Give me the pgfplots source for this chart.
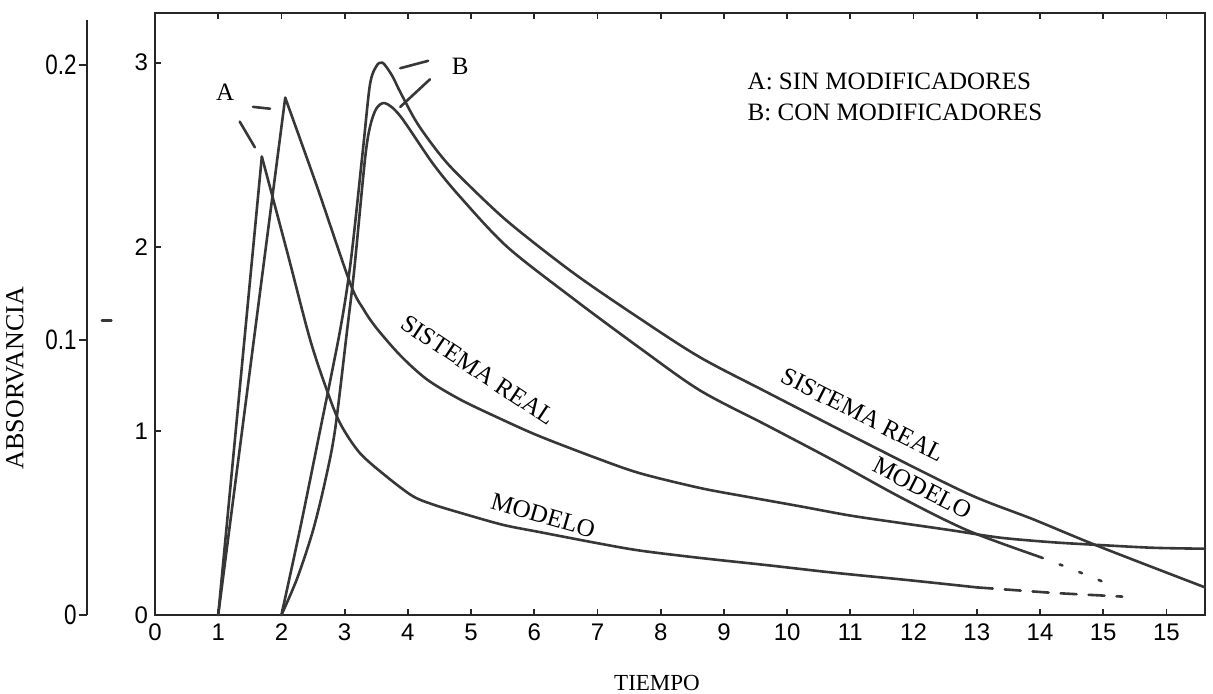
\documentclass[border=0pt]{standalone}
\usepackage{fontspec}
\setmainfont{Liberation Serif}
\newfontfamily\tickfont{Liberation Sans}
\usepackage{pgfplots}
\pgfplotsset{compat=1.18}
\definecolor{curve}{RGB}{55,55,55}
\tikzset{lbl/.style={font=\fontsize{12.5}{15}\selectfont, inner sep=0pt}}
\pgfplotsset{
  crv/.style={curve, line width=1.3pt, line join=round, line cap=round},
}
\begin{document}
\begin{tikzpicture}
\useasboundingbox (0,0) rectangle (606.5pt,347pt);

% second absorbance scale on the far left
\begin{axis}[
    at={(43.5pt,39.5pt)}, anchor=south west,
    scale only axis, width=20pt, height=297.5pt,
    xmin=0, xmax=1, ymin=0, ymax=0.21636,
    axis y line=left, hide x axis,
    axis line style={-, line width=1.4pt, black!85},
    ytick={0,0.1,0.2},
    yticklabels={\scalebox{0.8}[1]{0},\scalebox{0.8}[1]{0.1},\scalebox{0.8}[1]{0.2}},
    tick align=outside, major tick length=4pt,
    tick style={line width=1pt, black!85},
    yticklabel style={font=\tickfont\fontsize{14}{14}\selectfont, inner sep=1pt},
]
\end{axis}

\begin{axis}[
    at={(77.5pt,39.5pt)}, anchor=south west,
    scale only axis, width=525pt, height=301pt,
    xmin=0, xmax=16.61, ymin=0, ymax=3.27,
    xtick={0,1,2,3,4,5,6,7,8,9,10,11,12,13,14,15,16},
    xticklabels={0,1,2,3,4,5,6,7,8,9,10,11,12,13,14,15,15},
    ytick={0,1,2,3}, yticklabels={0,1,2,3},
    xtick pos=both, ytick pos=left,
    tick align=inside, major tick length=3pt,
    tick style={line width=0.9pt, black!85},
    axis line style={line width=1.4pt, black!85},
    ticklabel style={font=\tickfont\fontsize{12}{12}\selectfont},
    xticklabel style={yshift=-1pt},
    clip=false,
]
% A, sistema real
\addplot[crv] coordinates {(1,0) (2.06,2.81)};
\addplot[crv, smooth, tension=0.5] coordinates {
  (2.06,2.81) (2.56,2.33) (3.09,1.80) (3.3,1.66) (3.5,1.56) (3.88,1.41)
  (4.3,1.28) (4.83,1.17) (5.5,1.06) (6.09,0.97) (7.0,0.85) (7.67,0.77)
  (8.62,0.69) (9.4,0.64) (10.21,0.59) (11.0,0.54) (11.79,0.50) (12.6,0.46)
  (13.37,0.42) (14.2,0.395) (14.95,0.38) (15.8,0.365) (16.61,0.36)};
% A, modelo
\addplot[crv] coordinates {(1,0) (1.69,2.49)};
\addplot[crv, smooth, tension=0.5] coordinates {
  (1.69,2.49) (2.1,1.96) (2.45,1.50) (2.72,1.22) (2.93,1.04) (3.24,0.88)
  (3.67,0.75) (4.08,0.645) (4.4,0.60) (4.83,0.555) (5.5,0.49) (6.09,0.45)
  (7.0,0.39) (7.67,0.35) (8.62,0.31) (9.7,0.27) (10.73,0.23) (11.9,0.19)
  (13.0,0.15)};
\addplot[crv, dash pattern=on 8pt off 6pt] coordinates {
  (13.0,0.15) (14.2,0.12) (15.3,0.10)};
% B, sistema real
\addplot[crv, smooth, tension=0.5] coordinates {
  (2,0) (2.29,0.46) (2.61,1.0) (2.93,1.55) (3.1,1.93) (3.29,2.53)
  (3.4,2.88) (3.5,2.98) (3.6,3.0) (3.75,2.93) (3.88,2.84) (4.15,2.67)
  (4.51,2.50) (4.83,2.38) (5.57,2.14) (6.61,1.86) (7.67,1.61) (8.62,1.40)
  (9.68,1.21) (11.27,0.93) (12.85,0.66) (13.89,0.52) (14.95,0.37) (16.61,0.15)};
% B, modelo
\addplot[crv, smooth, tension=0.5] coordinates {
  (2,0) (2.25,0.2) (2.5,0.46) (2.7,0.74) (2.85,1.01) (3.04,1.55)
  (3.15,1.87) (3.32,2.47) (3.40,2.65) (3.5,2.75) (3.64,2.78) (3.88,2.71)
  (4.4,2.45) (4.83,2.27) (5.57,2.0) (6.61,1.72) (7.67,1.45) (8.62,1.22)
  (9.68,1.03) (10.73,0.84) (11.79,0.64) (12.85,0.46) (14.0,0.315)};
\addplot[crv, dash pattern=on 1.5pt off 9pt] coordinates {
  (14.0,0.315) (14.5,0.25) (15.0,0.18)};

% leader strokes for A and B
\addplot[crv] coordinates {(1.55,2.76) (1.82,2.75)};
\addplot[crv] coordinates {(1.34,2.68) (1.58,2.54)};
\addplot[crv] coordinates {(3.88,2.97) (4.32,3.01)};
\addplot[crv] coordinates {(3.88,2.76) (4.35,2.91)};
\addplot[crv] coordinates {(-0.84,1.60) (-0.69,1.60)};

\node[lbl] at (axis cs:1.11,2.84) {A};
\node[lbl] at (axis cs:4.83,2.98) {B};
\node[lbl, anchor=west] at (axis cs:9.37,2.90) {A: SIN MODIFICADORES};
\node[lbl, anchor=west] at (axis cs:9.37,2.73) {B: CON MODIFICADORES};
\node[lbl, rotate=-33.7] at (axis cs:5.11,1.33) {SISTEMA REAL};
\node[lbl, rotate=-16] at (axis cs:6.14,0.54) {MODELO};
\node[lbl, rotate=-27] at (axis cs:11.2,1.087) {SISTEMA REAL};
\node[lbl, rotate=-27] at (axis cs:12.14,0.69) {MODELO};
\end{axis}

\node[font=\fontsize{13}{15}\selectfont, inner sep=0pt, rotate=90] at (7.5pt,158pt) {ABSORVANCIA};
\node[font=\fontsize{11.5}{12}\selectfont, inner sep=0pt] at (328.5pt,5.5pt) {TIEMPO};
\end{tikzpicture}
\end{document}
